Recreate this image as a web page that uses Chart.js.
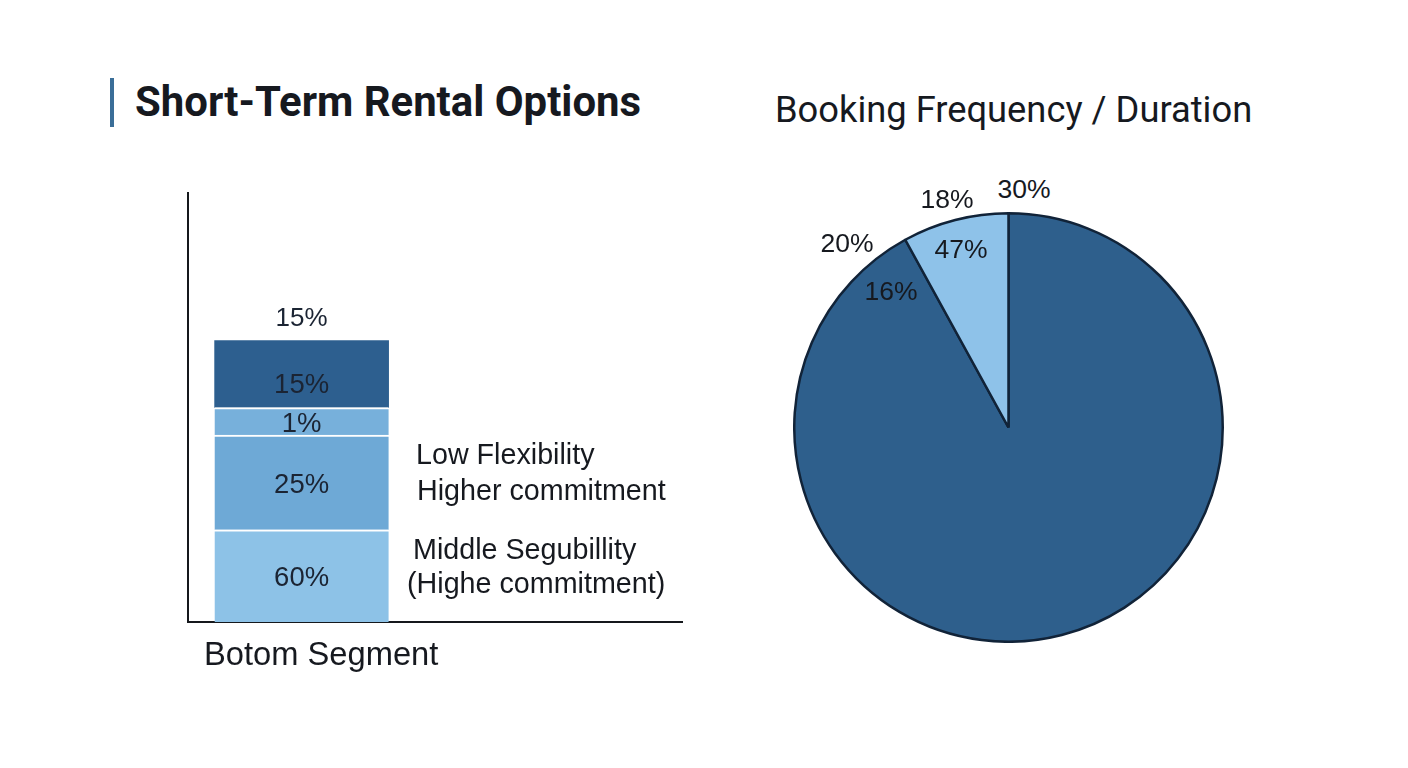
<!DOCTYPE html>
<html>
<head>
<meta charset="utf-8">
<script src="https://cdn.jsdelivr.net/npm/chart.js@4/dist/chart.umd.min.js"></script>
<style>
  html, body { margin: 0; padding: 0; background: #ffffff; width: 1408px; height: 768px; overflow: hidden; font-family: Roboto, "Noto Sans", sans-serif; color: #16191f; }
  .abs { position: absolute; white-space: nowrap; }
  #accent { position: absolute; left: 110px; top: 78px; width: 4px; height: 49px; background: #3a6e98; }
  #title { left: 135px; top: 77px; font-size: 41.9px; font-weight: 700; line-height: 50px; }
  #pieTitle { left: 775px; top: 87px; font-size: 36.3px; font-weight: 400; line-height: 46px; }
  .note { font-family: "Liberation Sans", Arial, sans-serif; font-size: 28.7px; line-height: 32px; color: #16191f; }
  .plab { font-family: "Liberation Sans", Arial, sans-serif; font-size: 26.5px; line-height: 30px; color: #16191f; transform: translate(-50%, -50%); }
  #barWrap { position: absolute; left: 0; top: 0; width: 700px; height: 700px; }
  #pieWrap { position: absolute; left: 793px; top: 212px; width: 431px; height: 431px; }
</style>
</head>
<body>
<div id="accent"></div>
<div id="title" class="abs">Short-Term Rental Options</div>
<div id="pieTitle" class="abs">Booking Frequency / Duration</div>

<div id="barWrap"><canvas id="bar" width="700" height="700"></canvas></div>
<div id="pieWrap"><canvas id="pie" width="431" height="431"></canvas></div>

<div class="abs note" style="left:416px; top:438px;">Low Flexibility</div>
<div class="abs note" style="left:417px; top:474px;">Higher commitment</div>
<div class="abs note" style="left:413px; top:533px;">Middle Segubillity</div>
<div class="abs note" style="left:407px; top:567px;">(Highe commitment)</div>
<div class="abs note" style="left:204px; top:636px; font-size:32.7px; line-height:36px;">Botom Segment</div>

<div class="abs plab" style="left:1024px; top:189px;">30%</div>
<div class="abs plab" style="left:947px; top:199px;">18%</div>
<div class="abs plab" style="left:847px; top:243px;">20%</div>
<div class="abs plab" style="left:961px; top:249px;">47%</div>
<div class="abs plab" style="left:891px; top:291px;">16%</div>

<script>
// ---- Bar (stacked, single column) ----
const barCategory = ['Botom Segment'];
const segmentNames = ['Bottom', 'Middle', 'Thin', 'Top'];
const segmentLabels = ['60%', '25%', '1%', '15%'];
// segment heights as drawn in the picture (axis units, 0-100 axis)
const segmentHeights = [21.5, 22.1, 6.4, 15.6];
const topLabel = '15%';
const segmentColors = ['#8dc2e7', '#6ea9d6', '#77b0db', '#2d5f8f'];

// ---- Pie ----
const pieCategories = ['Long stays', 'Short stays'];
const pieValues = [92, 8];
const pieColors = ['#2e5f8c', '#8ec2e9'];

const BAR_POS = 0.203;

const barLabelPlugin = {
  id: 'barLabels',
  afterDatasetsDraw(chart) {
    const ctx = chart.ctx;
    ctx.save();
    ctx.fillStyle = '#1b2433';
    ctx.font = '27.5px "Liberation Sans", Arial, sans-serif';
    ctx.textAlign = 'center';
    ctx.textBaseline = 'middle';
    let topY = null, cx = null;
    chart.data.datasets.forEach((ds, i) => {
      const el = chart.getDatasetMeta(i).data[0];
      const cy = (el.y + el.base) / 2;
      const nudge = i === chart.data.datasets.length - 1 ? 11 : 3;
      ctx.fillText(segmentLabels[i], el.x, cy + nudge);
      if (topY === null || el.y < topY) { topY = el.y; cx = el.x; }
    });
    ctx.font = '26px "Liberation Sans", Arial, sans-serif';
    ctx.fillText(topLabel, cx, topY - 22);
    ctx.restore();
  }
};

new Chart(document.getElementById('bar'), {
  type: 'bar',
  data: {
    labels: barCategory,
    datasets: segmentHeights.map((h, i) => ({
      label: segmentNames[i],
      data: [{ x: BAR_POS, y: h }],
      backgroundColor: segmentColors[i],
      borderColor: '#ffffff',
      borderWidth: i === segmentHeights.length - 1 ? 0 : { top: 2, bottom: 0, left: 0, right: 0 },
      borderSkipped: false,
      barThickness: 174
    }))
  },
  options: {
    responsive: false,
    animation: false,
    events: [],
    layout: { padding: { left: 188, top: 193, right: 18, bottom: 78 } },
    plugins: { legend: { display: false }, tooltip: { enabled: false }, title: { display: false } },
    scales: {
      x: {
        type: 'linear', min: 0, max: 1, stacked: true,
        grid: { display: false, drawTicks: false },
        ticks: { display: false },
        border: { display: true, color: '#15181c', width: 2 }
      },
      y: {
        type: 'linear', min: 0, max: 100, stacked: true,
        grid: { display: false, drawTicks: false },
        ticks: { display: false },
        border: { display: true, color: '#15181c', width: 2 }
      }
    }
  },
  plugins: [barLabelPlugin]
});

new Chart(document.getElementById('pie'), {
  type: 'pie',
  data: {
    labels: pieCategories,
    datasets: [{
      data: pieValues,
      backgroundColor: pieColors,
      borderColor: '#112338',
      borderWidth: 2.5
    }]
  },
  options: {
    responsive: false,
    animation: false,
    events: [],
    layout: { padding: 0 },
    plugins: { legend: { display: false }, tooltip: { enabled: false } }
  }
});
</script>
</body>
</html>
